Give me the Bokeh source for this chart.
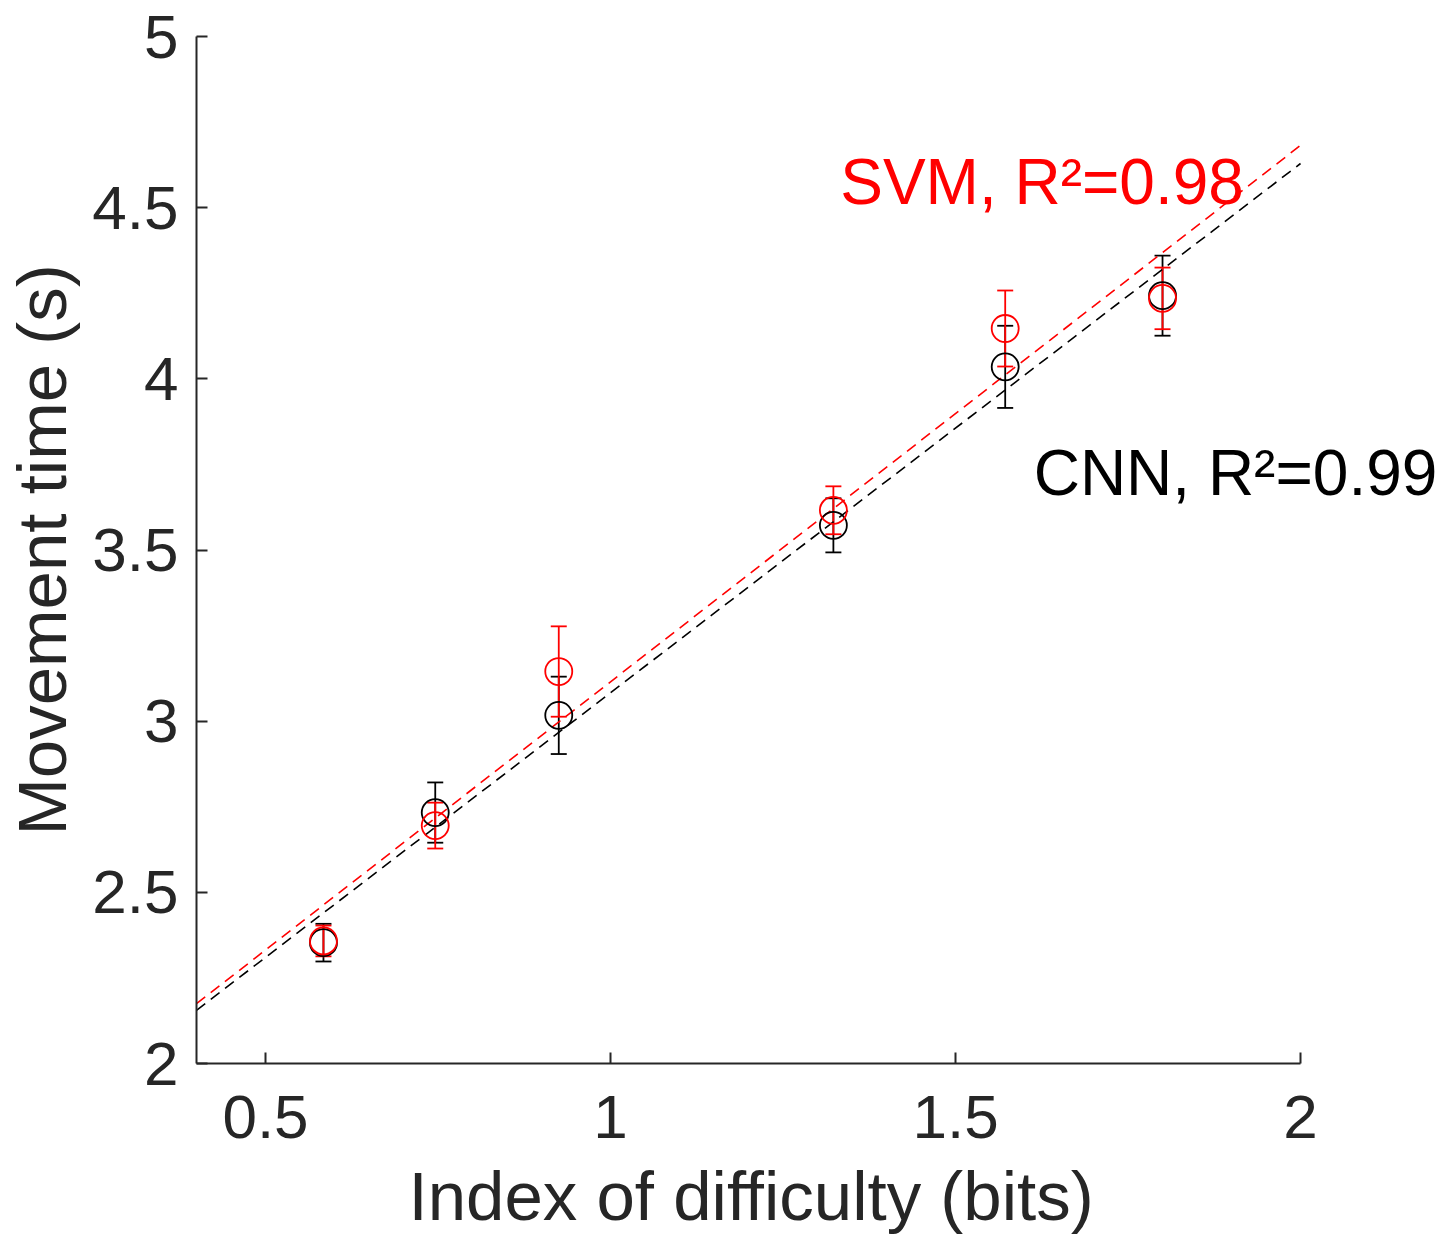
from bokeh.plotting import figure
from bokeh.models import ColumnDataSource, Whisker, TeeHead, FixedTicker, Range1d, Label, Title
from bokeh.embed import file_html
from bokeh.resources import INLINE

# ---- data ----
id_bits = [0.584, 0.746, 0.925, 1.323, 1.572, 1.800]
cnn_mt = [2.353, 2.733, 3.017, 3.572, 4.035, 4.243]
cnn_err = [0.055, 0.088, 0.113, 0.079, 0.120, 0.117]
svm_mt = [2.358, 2.695, 3.145, 3.616, 4.147, 4.235]
svm_err = [0.045, 0.067, 0.132, 0.070, 0.111, 0.090]

cnn_slope, cnn_intercept = 1.546, 1.537
svm_slope, svm_intercept = 1.567, 1.548
fit_x = [0.4, 2.0]

x_ticks = [0.5, 1.0, 1.5, 2.0]
x_tick_labels = ["0.5", "1", "1.5", "2"]
y_ticks = [2.0, 2.5, 3.0, 3.5, 4.0, 4.5, 5.0]
y_tick_labels = ["2", "2.5", "3", "3.5", "4", "4.5", "5"]

cnn_label = "CNN, R\u00b2=0.99"
svm_label = "SVM, R\u00b2=0.98"
x_label = "Index of difficulty (bits)"
y_label = "Movement time (s)"

FONT = "Liberation Sans"
AX = "#262626"
RED = "#ff0000"
BLK = "#000000"

p = figure(width=1441, height=1249, output_backend="svg", toolbar_location=None,
           x_range=Range1d(0.4, 2.2043), y_range=Range1d(2.0, 5.0),
           min_border_left=196, min_border_top=36, min_border_right=0,
           min_border_bottom=186)
p.outline_line_color = None
p.xgrid.visible = False
p.ygrid.visible = False
p.background_fill_color = "white"
p.border_fill_color = "white"

# fit lines
p.line(fit_x, [cnn_slope * x + cnn_intercept for x in fit_x], line_color=BLK,
       line_width=1.6, line_dash="11 7")
p.line(fit_x, [svm_slope * x + svm_intercept for x in fit_x], line_color=RED,
       line_width=1.6, line_dash="11 7")

def series(mt, err, color):
    src = ColumnDataSource(dict(x=id_bits, y=mt,
                                lo=[m - e for m, e in zip(mt, err)],
                                hi=[m + e for m, e in zip(mt, err)]))
    w = Whisker(base="x", lower="lo", upper="hi", source=src,
                line_color=color, line_width=1.8,
                upper_head=TeeHead(size=16, line_color=color, line_width=1.8),
                lower_head=TeeHead(size=16, line_color=color, line_width=1.8))
    p.add_layout(w)
    p.scatter("x", "y", source=src, marker="circle", size=27, fill_color=None,
              line_color=color, line_width=1.8)

series(cnn_mt, cnn_err, BLK)
series(svm_mt, svm_err, RED)

p.add_layout(Label(x=1.6254, y=4.574, text=svm_label, text_font=FONT,
                   text_font_size="64px", text_align="center",
                   text_baseline="alphabetic", text_color=RED))
p.add_layout(Label(x=1.9058, y=3.724, text=cnn_label, text_font=FONT,
                   text_font_size="64px", text_align="center",
                   text_baseline="alphabetic", text_color=BLK))

for ax, ticks, labels in ((p.xaxis[0], x_ticks, x_tick_labels),
                          (p.yaxis[0], y_ticks, y_tick_labels)):
    ax.ticker = FixedTicker(ticks=ticks)
    ax.major_label_overrides = dict(zip(ticks, labels))
    ax.minor_tick_line_color = None
    ax.major_tick_in = 11
    ax.major_tick_out = 0
    ax.major_tick_line_color = AX
    ax.major_tick_line_width = 2
    ax.axis_line_color = AX
    ax.axis_line_width = 2
    ax.major_label_text_font = FONT
    ax.major_label_text_font_size = "62px"
    ax.major_label_text_color = AX
    ax.axis_label_text_font = FONT
    ax.axis_label_text_font_size = "69px"
    ax.axis_label_text_font_style = "normal"
    ax.axis_label_text_color = AX

p.xaxis.bounds = (0.4, 2.0)
p.yaxis.bounds = (2.0, 5.0)
p.yaxis.axis_label = y_label
p.xaxis.major_label_standoff = 32
p.yaxis.major_label_standoff = 18
p.yaxis.axis_label_standoff = 8

# x-axis label centred under the axis line (not the wider frame)
p.add_layout(Title(text=x_label, align="left", offset=212, text_font=FONT,
                   text_font_size="69px", text_font_style="normal",
                   text_color=AX, standoff=30), "below")

open("out.html", "w").write(file_html(p, INLINE))
